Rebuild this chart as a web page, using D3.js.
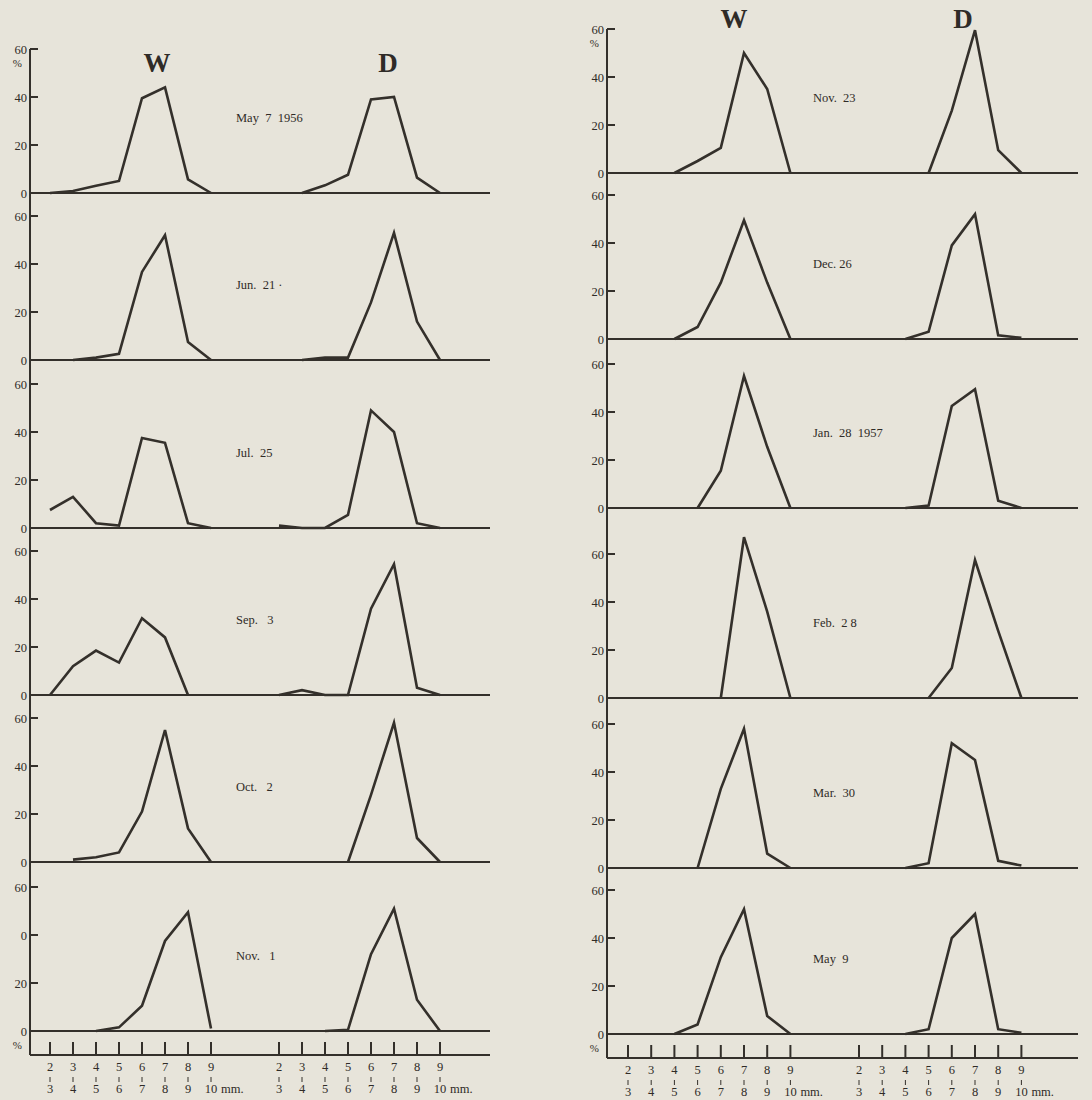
<!DOCTYPE html>
<html>
<head>
<meta charset="utf-8">
<script src="https://cdn.jsdelivr.net/npm/d3@7"></script>
<style>
  body { margin: 0; background: #e7e4da; }
  svg { display: block; }
  text { font-family: "Liberation Serif", "DejaVu Serif", serif; fill: #2f2b27; white-space: pre; }
</style>
</head>
<body>
<svg id="chart" width="1092" height="1100"></svg>
<script>
// size classes (mm) on the x axis
var sizeLow = [2, 3, 4, 5, 6, 7, 8, 9];
var sizeHigh = [3, 4, 5, 6, 7, 8, 9, 10];
var yTicks = [0, 20, 40, 60];

// left column dates
var leftDates = ["May  7  1956", "Jun.  21", "Jul.  25", "Sep.   3", "Oct.   2", "Nov.   1"];
// right column dates
var rightDates = ["Nov.  23", "Dec. 26", "Jan.  28  1957", "Feb.  2 8", "Mar.  30", "May  9"];

// % per size class, W = wet side, D = dry side (null = no point)
var may7W = [0, 0.8, 3, 5, 39.5, 44, 5.7, 0];
var may7D = [null, 0, 3.2, 7.6, 39, 40, 6.4, 0];
var jun21W = [null, 0, 1, 2.6, 36.7, 52, 7.5, 0];
var jun21D = [null, 0, 1, 1, 24, 53, 16, 0];
var jul25W = [7.5, 13, 2, 1, 37.5, 35.5, 2, 0];
var jul25D = [1, 0, 0, 5.5, 49, 40, 2, 0];
var sep3W = [0, 12, 18.5, 13.5, 32, 24, 0, null];
var sep3D = [0, 2, 0, 0, 36, 54.5, 3, 0];
var oct2W = [null, 1, 2, 4, 21, 55, 14, 0];
var oct2D = [null, null, null, 0, 28, 58, 10, 0];
var nov1W = [null, null, 0, 1.5, 10.5, 37.5, 49.5, 1];
var nov1D = [null, null, 0, 0.5, 32, 51, 13, 0];

var nov23W = [null, null, 0, 5, 10.5, 50, 35, 0];
var nov23D = [null, null, null, 0, 26, 59.5, 9.5, 0];
var dec26W = [null, null, 0, 5, 23.5, 49.5, 23.5, 0];
var dec26D = [null, null, 0, 3, 39, 52, 1.5, 0.5];
var jan28W = [null, null, null, 0, 15.5, 55, 25.5, 0];
var jan28D = [null, null, 0, 1, 42.5, 49.5, 3, 0];
var feb28W = [null, null, null, null, 0, 67, 36, 0];
var feb28D = [null, null, null, 0, 12.5, 57.5, 28, 0];
var mar30W = [null, null, null, 0, 33, 58, 6, 0];
var mar30D = [null, null, 0, 2, 52, 45, 3, 1];
var may9W = [null, null, 0, 4, 32, 52, 7.5, 0];
var may9D = [null, null, 0, 2, 40, 50, 2, 0.5];

var leftW = [may7W, jun21W, jul25W, sep3W, oct2W, nov1W];
var leftD = [may7D, jun21D, jul25D, sep3D, oct2D, nov1D];
var rightW = [nov23W, dec26W, jan28W, feb28W, mar30W, may9W];
var rightD = [nov23D, dec26D, jan28D, feb28D, mar30D, may9D];

var ink = "#34302b";
var svg = d3.select("#chart");

var columns = [
  { axisX: 30, lineEnd: 490, wX0: 50, dX0: 279, step: 23, top: 49,
    zeros: [193, 360, 528, 695, 862, 1031], bottom: 1055, labelX: 236,
    dates: leftDates, W: leftW, D: leftD, wordY: 72, wX: 157, dX: 388 },
  { axisX: 607, lineEnd: 1078, wX0: 628, dX0: 859, step: 23.2, top: 29,
    zeros: [173, 339, 508, 698, 868, 1034], bottom: 1058, labelX: 813,
    dates: rightDates, W: rightW, D: rightD, wordY: 28, wX: 734, dX: 963 }
];

columns.forEach(function(col, ci) {
  var g = svg.append("g");
  var xW = d3.scalePoint().domain(sizeLow).range([col.wX0, col.wX0 + 7 * col.step]);
  var xD = d3.scalePoint().domain(sizeLow).range([col.dX0, col.dX0 + 7 * col.step]);

  // vertical axis
  g.append("line")
    .attr("x1", col.axisX).attr("x2", col.axisX)
    .attr("y1", col.top).attr("y2", col.bottom)
    .attr("stroke", ink).attr("stroke-width", 2);

  // W / D headings
  g.append("text").attr("x", col.wX).attr("y", col.wordY).attr("text-anchor", "middle")
    .style("font-size", "27px").style("font-weight", "bold").text("W");
  g.append("text").attr("x", col.dX).attr("y", col.wordY).attr("text-anchor", "middle")
    .style("font-size", "27px").style("font-weight", "bold").text("D");

  col.zeros.forEach(function(z, pi) {
    var y = d3.scaleLinear().domain([0, 60]).range([z, z - 144]);
    var p = g.append("g");

    // baseline
    p.append("line")
      .attr("x1", col.axisX).attr("x2", col.lineEnd)
      .attr("y1", y(0)).attr("y2", y(0))
      .attr("stroke", ink).attr("stroke-width", 2);

    // y ticks
    var labels = yTicks.map(String);
    if (ci == 0 && pi == 5) labels = ["0", "20", "0", "60"]; // as printed
    yTicks.forEach(function(t, ti) {
      if (t > 0) {
        p.append("line")
          .attr("x1", col.axisX).attr("x2", col.axisX + 8)
          .attr("y1", y(t)).attr("y2", y(t))
          .attr("stroke", ink).attr("stroke-width", 2);
      }
      p.append("text")
        .attr("x", col.axisX - 3).attr("y", y(t) + 4.5)
        .attr("text-anchor", "end")
        .style("font-size", "12.5px")
        .text(labels[ti]);
    });
    if (pi == 0) {
      p.append("text").attr("x", col.axisX - 8).attr("y", y(60) + 18)
        .attr("text-anchor", "end").style("font-size", "11px").text("%");
    }
    if (pi == col.zeros.length - 1) {
      p.append("text").attr("x", col.axisX - 8).attr("y", y(0) + 18)
        .attr("text-anchor", "end").style("font-size", "11px").text("%");
    }

    // date label
    p.append("text").attr("x", col.labelX).attr("y", y(0) - 71)
      .style("font-size", "12.5px").text(col.dates[pi] + (ci == 0 && pi == 1 ? " ·" : ""));

    var lineW = d3.line()
      .defined(function(d) { return d != null; })
      .x(function(d, i) { return xW(sizeLow[i]); })
      .y(function(d) { return y(d); });
    var lineD = d3.line()
      .defined(function(d) { return d != null; })
      .x(function(d, i) { return xD(sizeLow[i]); })
      .y(function(d) { return y(d); });

    p.append("path").datum(col.W[pi]).attr("d", lineW)
      .attr("fill", "none").attr("stroke", ink).attr("stroke-width", 2.6)
      .attr("stroke-linejoin", "miter");
    p.append("path").datum(col.D[pi]).attr("d", lineD)
      .attr("fill", "none").attr("stroke", ink).attr("stroke-width", 2.6)
      .attr("stroke-linejoin", "miter");
  });

  // bottom size axis
  g.append("line")
    .attr("x1", col.axisX).attr("x2", col.lineEnd)
    .attr("y1", col.bottom).attr("y2", col.bottom)
    .attr("stroke", ink).attr("stroke-width", 2);

  [xW, xD].forEach(function(x) {
    sizeLow.forEach(function(s, i) {
      var cx = x(s);
      g.append("line").attr("x1", cx).attr("x2", cx)
        .attr("y1", col.bottom - 13).attr("y2", col.bottom)
        .attr("stroke", ink).attr("stroke-width", 2);
      g.append("text").attr("x", cx).attr("y", col.bottom + 16)
        .attr("text-anchor", "middle").style("font-size", "12.5px").text(s);
      g.append("line").attr("x1", cx).attr("x2", cx)
        .attr("y1", col.bottom + 22).attr("y2", col.bottom + 27)
        .attr("stroke", ink).attr("stroke-width", 1);
      g.append("text").attr("x", cx).attr("y", col.bottom + 38)
        .attr("text-anchor", "middle").style("font-size", "12.5px")
        .text(sizeHigh[i]);
    });
    g.append("text").attr("x", x(9) + 10).attr("y", col.bottom + 38)
      .style("font-size", "12.5px").text("mm.");
  });
});
</script>
</body>
</html>
